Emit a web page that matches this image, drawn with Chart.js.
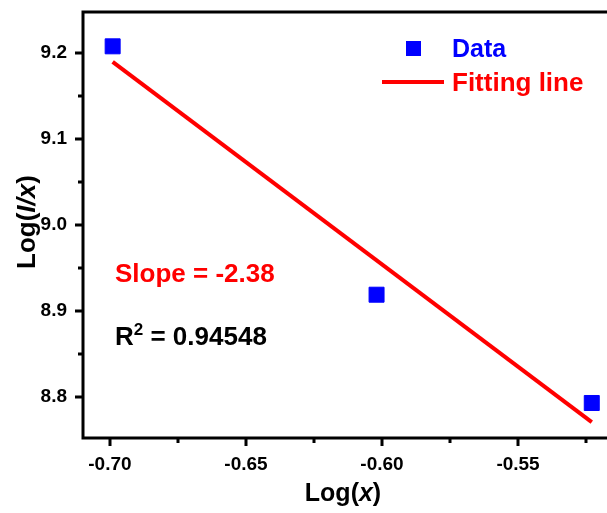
<!DOCTYPE html>
<html><head><meta charset="utf-8">
<script src="https://cdn.jsdelivr.net/npm/chart.js@4.4.0/dist/chart.umd.min.js"></script>
<style>html,body{margin:0;padding:0;background:#fff;overflow:hidden}#wrap{width:607px;height:513px;position:relative}</style>
</head><body><div id="wrap"><canvas id="c" width="607" height="513"></canvas></div>
<script>
// ---- data ----
const dataX = [-0.699, -0.602, -0.5229];
const dataY = [9.2074, 8.9186, 8.7927];
const fitX = [-0.699, -0.5229];
const fitY = [9.1893, 8.7705];
const xMajorTicks = [-0.70, -0.65, -0.60, -0.55];
const xMinorTicks = [-0.675, -0.625, -0.575, -0.525];
const yMajorTicks = [8.8, 8.9, 9.0, 9.1, 9.2];
const yMinorTicks = [8.85, 8.95, 9.05, 9.15];
const xRange = [-0.7099, -0.5173];
const yRange = [8.752, 9.2473];
const legendLabels = ['Data', 'Fitting line'];
const slopeText = 'Slope = -2.38';
const r2Text = ' = 0.94548';

const FONT = '"Liberation Sans", Arial, Helvetica, sans-serif';
const BLUE = '#0000ff', RED = '#ff0000';

function segs(ctx, parts, x, y) {
  let cx = x;
  parts.forEach(p => { ctx.font = p.f; ctx.fillText(p.t, cx, y + (p.dy || 0)); cx += ctx.measureText(p.t).width; });
  return cx - x;
}
function segsWidth(ctx, parts) {
  let w = 0; parts.forEach(p => { ctx.font = p.f; w += ctx.measureText(p.t).width; }); return w;
}
function zeroPad(s) { s.paddingLeft = 0; s.paddingRight = 0; s.paddingTop = 0; s.paddingBottom = 0; }

const deco = {
  id: 'deco',
  afterDraw(chart) {
    const {ctx, chartArea: a, scales: {x, y}} = chart;
    ctx.save();
    // axes frame
    ctx.strokeStyle = '#000'; ctx.lineWidth = 3; ctx.lineCap = 'square';
    ctx.beginPath();
    ctx.moveTo(a.right + 3, a.top); ctx.lineTo(a.left, a.top); ctx.lineTo(a.left, a.bottom); ctx.lineTo(a.right + 3, a.bottom);
    ctx.stroke();
    ctx.lineCap = 'butt';
    ctx.beginPath();
    xMajorTicks.forEach(v => { const p = Math.round(x.getPixelForValue(v)); ctx.moveTo(p, a.bottom); ctx.lineTo(p, a.bottom + 8); });
    xMinorTicks.forEach(v => { const p = Math.round(x.getPixelForValue(v)); ctx.moveTo(p, a.bottom); ctx.lineTo(p, a.bottom + 5); });
    yMajorTicks.forEach(v => { const p = Math.round(y.getPixelForValue(v)); ctx.moveTo(a.left, p); ctx.lineTo(a.left - 8, p); });
    yMinorTicks.forEach(v => { const p = Math.round(y.getPixelForValue(v)); ctx.moveTo(a.left, p); ctx.lineTo(a.left - 5, p); });
    ctx.stroke();

    // legend
    ctx.fillStyle = BLUE;
    ctx.fillRect(406, 41, 15, 15);
    ctx.strokeStyle = RED; ctx.lineWidth = 4;
    ctx.beginPath(); ctx.moveTo(382, 82); ctx.lineTo(444, 82); ctx.stroke();
    ctx.textBaseline = 'alphabetic'; ctx.textAlign = 'left';
    ctx.font = 'bold 25px ' + FONT;
    ctx.fillStyle = BLUE; ctx.fillText(legendLabels[0], 452, 57);
    ctx.font = 'bold 26px ' + FONT;
    ctx.fillStyle = RED; ctx.fillText(legendLabels[1], 452, 91);

    // annotations
    ctx.font = 'bold 26px ' + FONT;
    ctx.fillStyle = RED; ctx.fillText(slopeText, 115, 282);
    ctx.fillStyle = '#000';
    segs(ctx, [
      {t: 'R', f: 'bold 26px ' + FONT},
      {t: '2', f: 'bold 17px ' + FONT, dy: -10},
      {t: r2Text, f: 'bold 26px ' + FONT}
    ], 115, 345);

    // axis titles
    const xt = [
      {t: 'Log(', f: 'bold 25px ' + FONT},
      {t: 'x', f: 'italic bold 25px ' + FONT},
      {t: ')', f: 'bold 25px ' + FONT}
    ];
    const wx = segsWidth(ctx, xt);
    segs(ctx, xt, 343 - wx / 2, 501);
    const yt = [
      {t: 'Log(', f: 'bold 26px ' + FONT},
      {t: 'I/x', f: 'italic bold 26px ' + FONT},
      {t: ')', f: 'bold 26px ' + FONT}
    ];
    const wy = segsWidth(ctx, yt);
    ctx.translate(35, 222); ctx.rotate(-Math.PI / 2);
    segs(ctx, yt, -wy / 2, 0);
    ctx.restore();
  }
};

new Chart(document.getElementById('c'), {
  type: 'scatter',
  data: {
    datasets: [
      {
        label: legendLabels[1],
        type: 'line',
        data: fitX.map((v, i) => ({x: v, y: fitY[i]})),
        borderColor: RED, borderWidth: 4, pointRadius: 0, fill: false, tension: 0,
        borderCapStyle: 'butt', order: 2
      },
      {
        label: legendLabels[0],
        data: dataX.map((v, i) => ({x: v, y: dataY[i]})),
        pointStyle: 'rect', pointRadius: 10.6, borderWidth: 1,
        backgroundColor: BLUE, borderColor: BLUE, order: 1
      }
    ]
  },
  options: {
    responsive: false, animation: false, devicePixelRatio: 1,
    layout: {autoPadding: false, padding: {top: 12, left: 0, right: 0, bottom: 0}},
    plugins: {legend: {display: false}, tooltip: {enabled: false}},
    elements: {point: {hoverRadius: 10.6}},
    clip: false,
    scales: {
      x: {
        type: 'linear', min: xRange[0], max: xRange[1],
        grid: {display: false, drawTicks: false}, border: {display: false},
        afterFit: s => { s.height = 75; zeroPad(s); },
        afterBuildTicks: s => { s.ticks = xMajorTicks.map(v => ({value: v})); },
        ticks: {
          padding: 15, color: '#000', maxRotation: 0, autoSkip: false,
          font: {family: FONT, weight: 'bold', size: 19},
          callback: v => Number(v).toFixed(2)
        }
      },
      y: {
        type: 'linear', min: yRange[0], max: yRange[1],
        grid: {display: false, drawTicks: false}, border: {display: false},
        afterFit: s => { s.width = 83; zeroPad(s); },
        afterBuildTicks: s => { s.ticks = yMajorTicks.map(v => ({value: v})); },
        ticks: {
          padding: 16, color: '#000', autoSkip: false,
          font: {family: FONT, weight: 'bold', size: 19},
          callback: v => Number(v).toFixed(1)
        }
      }
    }
  },
  plugins: [deco]
});
</script></body></html>
